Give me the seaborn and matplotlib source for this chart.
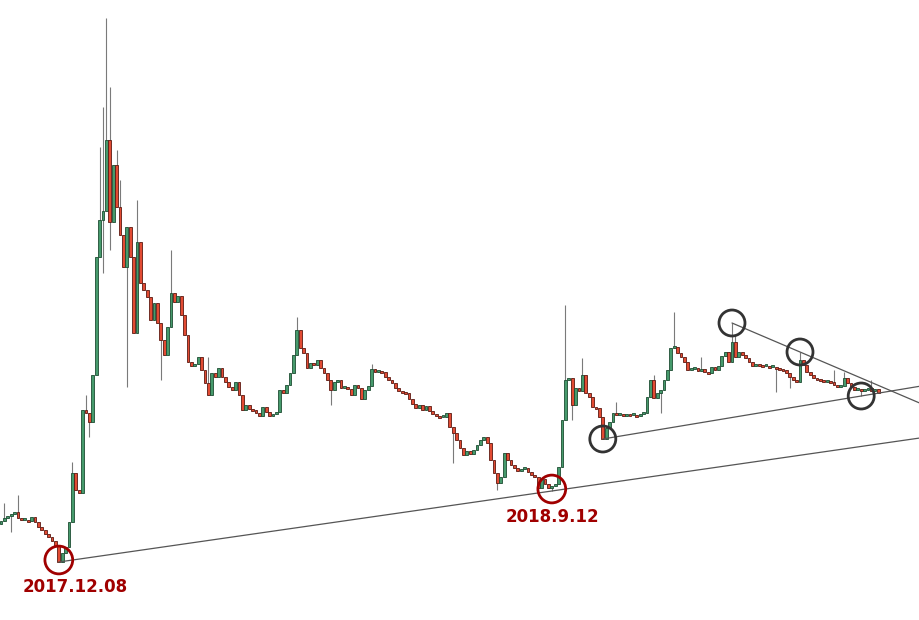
import numpy as np
import pandas as pd
import matplotlib
matplotlib.use('Agg')
import matplotlib.pyplot as plt
import seaborn as sns

# --- data (price units, one candle per step) ---
first_open = 96
closes = [
    99, 102, 104, 106, 108, 102, 100, 100, 99, 103,
    98, 93, 90, 86, 83, 79, 74, 58, 67, 73,
    98, 147, 130, 127, 210, 207, 198, 245, 363, 400,
    409, 480, 398, 455, 413, 385, 353, 393, 363, 287,
    378, 337, 330, 323, 300, 317, 297, 280, 265, 293,
    327, 318, 324, 305, 285, 258, 254, 256, 263, 250,
    237, 225, 247, 243, 252, 243, 238, 233, 230, 238,
    225, 210, 215, 211, 210, 207, 204, 213, 208, 204,
    206, 208, 230, 227, 235, 247, 265, 290, 272, 267,
    252, 257, 255, 260, 252, 247, 240, 230, 238, 240,
    232, 233, 231, 225, 235, 232, 221, 230, 234, 251,
    248, 249, 248, 243, 240, 237, 232, 229, 228, 227,
    221, 216, 212, 215, 210, 214, 209, 206, 204, 203,
    203, 207, 193, 187, 180, 172, 165, 169, 166, 170,
    175, 180, 183, 177, 160, 147, 137, 143, 167, 160,
    155, 152, 149, 151, 152, 148, 145, 143, 132, 141,
    136, 132, 134, 136, 153, 200, 240, 242, 215, 232,
    229, 245, 227, 223, 213, 212, 203, 181, 192, 198,
    207, 205, 206, 204, 206, 205, 205, 204, 206, 207,
    223, 240, 222, 227, 230, 240, 250, 272, 273, 267,
    263, 258, 250, 251, 252, 249, 251, 248, 247, 253,
    250, 254, 264, 268, 258, 278, 263, 268, 265, 262,
    258, 254, 256, 255, 254, 254, 253, 253, 252, 251,
    250, 247, 243, 240, 238, 260, 255, 248, 245, 242,
    241, 240, 238, 239, 238, 235, 233, 234, 242, 237,
    233, 230, 231, 229, 230, 232, 229, 231, 227,
]

# visible wicks (nan = no wick on that side)
nan = np.nan
wick_idx = [1, 3, 5, 21, 25, 26, 28, 29, 30, 31,
            32, 34, 35, 37, 40, 47, 50, 61, 87, 97,
            109, 133, 146, 162, 166, 168, 171, 181, 192, 194,
            198, 206, 215, 216, 228, 232, 235, 245, 248, 253, 256]
wick_high = [117, nan, 125, 158, 225, nan, nan, 473, 513, 602,
             533, 470, 440, nan, 420, nan, 370, 263, 303, nan,
             256, nan, nan, nan, 315, nan, 262, 218, 245, nan,
             308, 263, 297, 285, nan, nan, 268, 250, 248, nan, 240]
wick_low = [nan, 88, nan, nan, nan, 183, 333, nan, 347, nan,
            370, nan, nan, 233, nan, 240, nan, nan, nan, 215,
            nan, 157, 130, 129, nan, 200, nan, nan, nan, 207,
            nan, nan, nan, nan, 228, 232, nan, nan, nan, 224, nan]

# trend line anchors (candle index pairs)
support_long = [17, 162]
support_short = [177, 253]
resistance = [215, 235]
circle_red = [17, 162]
circle_dark = [177, 215, 235, 253]
date_labels = ['2017.12.08', '2018.9.12']

# --- build OHLC ---
df = pd.DataFrame({'close': closes})
df['open'] = df['close'].shift(1).fillna(first_open)
df['high'] = df[['open', 'close']].max(axis=1)
df['low'] = df[['open', 'close']].min(axis=1)
for i, h, l in zip(wick_idx, wick_high, wick_low):
    if not np.isnan(h):
        df.loc[i, 'high'] = h
    if not np.isnan(l):
        df.loc[i, 'low'] = l
df['idx'] = np.arange(len(df))
up = df['close'] >= df['open']

sns.set_theme(style='white')
plt.rcParams['font.family'] = ['DejaVu Sans']

fig = plt.figure(figsize=(9.2, 6.2), dpi=100)
ax = fig.add_axes([0, 0, 1, 1])

step_px = 3.4
x_left = -1 / step_px
x_right = 919 / step_px
ax.set_xlim(x_left, x_right)
ax.set_ylim(0, 620)
ax.axis('off')

# wicks
ax.vlines(df['idx'], df['low'], df['high'], color='#7a7a7a', lw=0.8, zorder=1)

# bodies
body = df['close'] - df['open']
body = np.where(np.abs(body) < 2, np.where(body >= 0, 2, -2), body)
fills = np.where(up, '#469a6c', '#e24b33')
edges = np.where(up, '#1e4d33', '#5c1a12')
ax.bar(df['idx'], body, bottom=df['open'], width=0.82, color=fills,
       edgecolor=edges, linewidth=0.6, zorder=2)


def extend(i0, y0, i1, y1):
    slope = (y1 - y0) / (i1 - i0)
    return pd.DataFrame({'x': [i0, x_right], 'y': [y0, y0 + slope * (x_right - i0)]})


lines = [
    extend(support_long[0], df.loc[support_long[0], 'low'], support_long[1], df.loc[support_long[1], 'low']),
    extend(support_short[0], df.loc[support_short[0], 'low'], support_short[1], df.loc[support_short[1], 'low']),
    extend(resistance[0], df.loc[resistance[0], 'high'], resistance[1], df.loc[resistance[1], 'high']),
]
for ln in lines:
    sns.lineplot(data=ln, x='x', y='y', ax=ax, color='#555555', lw=0.9, zorder=3)

# circles
red_y = [df.loc[i, 'low'] + 2 for i in circle_red]
ax.scatter(circle_red, red_y, s=400, facecolors='none', edgecolors='#a00000',
           linewidths=2.0, zorder=4)
dark_y = [df.loc[177, 'low'], df.loc[215, 'high'], df.loc[235, 'high'], df.loc[253, 'low']]
ax.scatter(circle_dark, dark_y, s=350, facecolors='none', edgecolors='#333333',
           linewidths=2.0, zorder=4)

# date labels
offsets = [(16, -25), (1, -26)]
for i, txt, off in zip(circle_red, date_labels, offsets):
    ax.annotate(txt, (i, df.loc[i, 'low']), xytext=off, textcoords='offset pixels',
                ha='center', va='center', fontsize=12, fontweight='bold', color='#a00000')

fig.savefig('out.png', dpi=100)
